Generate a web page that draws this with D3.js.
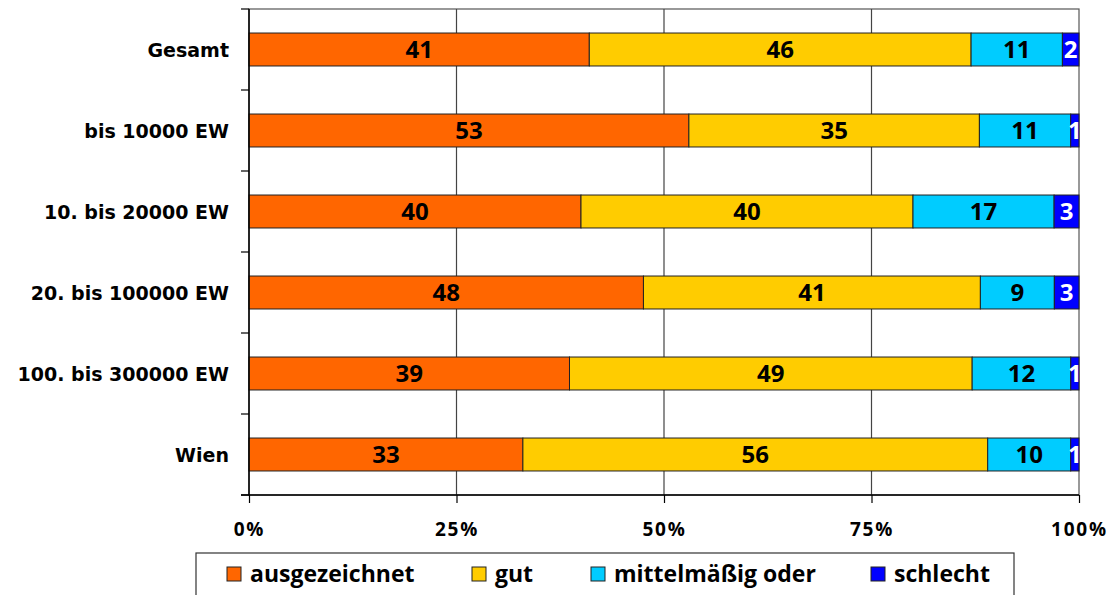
<!DOCTYPE html>
<html><head><meta charset="utf-8">
<script src="https://cdn.jsdelivr.net/npm/d3@7"></script>
<style>
body{margin:0;background:#fff;}
text{font-family:"Open Sans",sans-serif;font-weight:bold;}
</style>
</head><body><svg id="c" width="1110" height="595"></svg>
<script>
const categories = ["Gesamt","bis 10000 EW","10. bis 20000 EW","20. bis 100000 EW","100. bis 300000 EW","Wien"];
const seriesNames = ["ausgezeichnet","gut","mittelmäßig oder","schlecht"];
const ausgezeichnet = [41,53,40,48,39,33];
const gut = [46,35,40,41,49,56];
const mittelmaessig = [11,11,17,9,12,10];
const schlecht = [2,1,3,3,1,1];
const tickValues = [0,0.25,0.5,0.75,1];
const tickLabels = ["0%","25%","50%","75%","100%"];
const colors = ["#FF6600","#FFCC00","#00CCFF","#0000FF"];
const labelColors = ["#000","#000","#000","#fff"];

const seriesArrays = [ausgezeichnet, gut, mittelmaessig, schlecht];
const rows = categories.map((c,i)=>{
  const r = {cat:c};
  seriesNames.forEach((s,j)=>r[s]=seriesArrays[j][i]);
  return r;
});

const svg = d3.select("#c");
const L=249, R=1079, T=9, B=495;
const x = d3.scaleLinear().domain([0,1]).range([L,R]);
const y = d3.scaleBand().domain(categories).range([T,B]).paddingInner(0.593).paddingOuter(0.2965);

const stack = d3.stack().keys(seriesNames).offset(d3.stackOffsetExpand);
const stacked = stack(rows);

// plot frame
svg.append("rect").attr("x",L).attr("y",T).attr("width",R-L).attr("height",B-T)
  .attr("fill","#fff").attr("stroke","#555").attr("stroke-width",1.2);

// gridlines
svg.append("g").selectAll("line").data(tickValues.slice(1,4)).join("line")
  .attr("x1",d=>x(d)).attr("x2",d=>x(d)).attr("y1",T).attr("y2",B)
  .attr("stroke","#444").attr("stroke-width",1.2);

svg.append("clipPath").attr("id","clip").append("rect")
  .attr("x",L).attr("y",T).attr("width",R-L).attr("height",B-T);

const g = svg.append("g");
stacked.forEach((ser,j)=>{
  g.append("g").selectAll("rect").data(ser).join("rect")
    .attr("x",d=>x(d[0])).attr("width",d=>x(d[1])-x(d[0]))
    .attr("y",d=>y(d.data.cat)).attr("height",y.bandwidth())
    .attr("fill",colors[j]).attr("stroke","#222").attr("stroke-width",1);
});
const lg = svg.append("g").attr("clip-path","url(#clip)");
stacked.forEach((ser,j)=>{
  lg.append("g").selectAll("text").data(ser).join("text")
    .attr("x",d=>(x(d[0])+x(d[1]))/2)
    .attr("y",d=>y(d.data.cat)+y.bandwidth()/2)
    .attr("dy","0.36em").attr("text-anchor","middle")
    .attr("font-size",24).attr("fill",labelColors[j])
    .text(d=>d.data[seriesNames[j]]);
});

// y axis
const yAxis = svg.append("g").attr("transform",`translate(${L},0)`);
yAxis.append("line").attr("x1",0).attr("x2",0).attr("y1",T).attr("y2",B).attr("stroke","#000").attr("stroke-width",1.5);
yAxis.selectAll("line.t").data(d3.range(categories.length+1)).join("line").attr("class","t")
  .attr("x1",-8).attr("x2",0)
  .attr("y1",i=>T+i*y.step()).attr("y2",i=>T+i*y.step())
  .attr("stroke","#000").attr("stroke-width",1.2);
yAxis.selectAll("text").data(categories).join("text")
  .attr("x",-20).attr("y",d=>y(d)+y.bandwidth()/2+1).attr("dy","0.36em")
  .attr("text-anchor","end").attr("font-size",19).attr("fill","#000")
  .style("font-family","'DejaVu Sans',sans-serif").text(d=>d);

// x axis
const xAxis = svg.append("g").attr("transform",`translate(0,${B})`)
  .call(d3.axisBottom(x).tickValues(tickValues).tickSize(8).tickPadding(20)
    .tickFormat((d,i)=>tickLabels[i]));
xAxis.select(".domain").remove();
xAxis.append("line").attr("x1",L-8).attr("x2",R).attr("y1",0).attr("y2",0).attr("stroke","#000").attr("stroke-width",1.5);
xAxis.selectAll(".tick line").attr("stroke","#000").attr("stroke-width",1.2);
xAxis.selectAll(".tick text").attr("font-size",19).attr("fill","#000")
  .attr("font-family","'Open Sans',sans-serif").attr("font-weight","bold").attr("letter-spacing","1.8px");

// legend
const legend = svg.append("g");
legend.append("rect").attr("x",196).attr("y",553).attr("width",818).attr("height",60)
  .attr("fill","#fff").attr("stroke","#333").attr("stroke-width",1.2);
const legX = [227,472,591,871];
seriesNames.forEach((s,j)=>{
  legend.append("rect").attr("x",legX[j]).attr("y",567).attr("width",14).attr("height",14)
    .attr("fill",colors[j]).attr("stroke","#222").attr("stroke-width",1);
  legend.append("text").attr("x",legX[j]+23).attr("y",574).attr("dy","0.36em")
    .attr("font-size",23).attr("fill","#000").text(s);
});
</script>
</body></html>
